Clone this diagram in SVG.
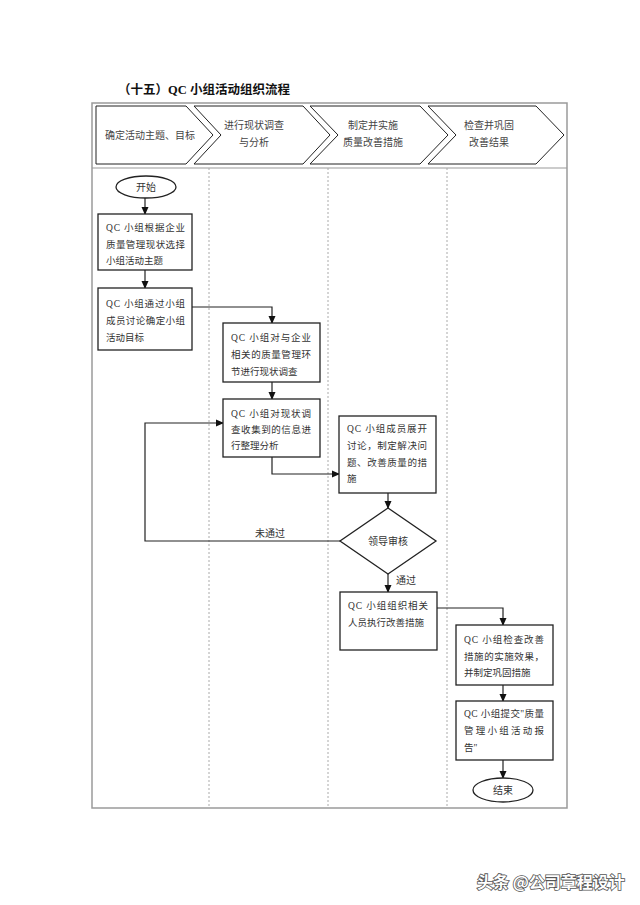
<svg xmlns="http://www.w3.org/2000/svg" width="640" height="905" viewBox="0 0 640 905">
<style>
text{font-family:"Liberation Serif","Noto Sans CJK SC",serif;fill:#333;}
.t{font-size:9.5px;}
.h{font-size:10px;text-anchor:middle;fill:#444;}
.box{fill:#fff;stroke:#222;stroke-width:1.3;}
.chev{fill:#fff;stroke:#222;stroke-width:1;}
.frame{fill:none;stroke:#9a9a9a;stroke-width:1.5;}
.lane{stroke:#aaa;stroke-width:1;stroke-dasharray:2,2;}
.c{fill:none;stroke:#222;stroke-width:1.2;}
</style>
<defs>
<marker id="ar" markerWidth="8" markerHeight="8" refX="7" refY="4" orient="auto" markerUnits="userSpaceOnUse">
<path d="M0,0.5 L8,4 L0,7.5 Z" fill="#111"/>
</marker>
</defs>
<rect width="640" height="905" fill="#fff"/>
<text x="118" y="94" style="font-size:12.5px;font-weight:bold;fill:#111">（十五）QC 小组活动组织流程</text>

<g id="frame">
<rect class="frame" x="92" y="103" width="475" height="705"/>
<line x1="92" y1="168" x2="567" y2="168" stroke="#9a9a9a" stroke-width="1.2"/>
<line class="lane" x1="209" y1="168" x2="209" y2="808"/>
<line class="lane" x1="328" y1="168" x2="328" y2="808"/>
<line class="lane" x1="447" y1="168" x2="447" y2="808"/>
</g>

<g id="header1"><polygon class="chev" points="96,106 186,106 213,135 186,164 96,164"/><text class="h" x="150" y="139">确定活动主题、目标</text></g>
<g id="header2"><polygon class="chev" points="194,106 303,106 330,135 303,164 194,164 221,135"/><text class="h" x="254" y="129">进行现状调查</text><text class="h" x="254" y="146">与分析</text></g>
<g id="header3"><polygon class="chev" points="310,106 420,106 448,135 420,164 310,164 338,135"/><text class="h" x="373" y="129">制定并实施</text><text class="h" x="373" y="146">质量改善措施</text></g>
<g id="header4"><polygon class="chev" points="428,106 536,106 564,135 536,164 428,164 456,135"/><text class="h" x="489" y="129">检查并巩固</text><text class="h" x="489" y="146">改善结果</text></g>

<g id="connectors">
<line class="c" x1="145" y1="198" x2="145" y2="214" marker-end="url(#ar)"/>
<line class="c" x1="145" y1="270" x2="145" y2="288" marker-end="url(#ar)"/>
<polyline class="c" points="192,307 272,307 272,323" marker-end="url(#ar)"/>
<line class="c" x1="272" y1="382" x2="272" y2="399" marker-end="url(#ar)"/>
<polyline class="c" points="272,457 272,474 339,474" marker-end="url(#ar)"/>
<line class="c" x1="388" y1="493" x2="388" y2="508" marker-end="url(#ar)"/>
<polyline class="c" points="340,541 145,541 145,423 223,423" marker-end="url(#ar)"/>
<line class="c" x1="388" y1="574" x2="388" y2="592" marker-end="url(#ar)"/>
<polyline class="c" points="437,608 503,608 503,625" marker-end="url(#ar)"/>
<line class="c" x1="503" y1="685" x2="503" y2="701" marker-end="url(#ar)"/>
<line class="c" x1="503" y1="760" x2="503" y2="778" marker-end="url(#ar)"/>
<text x="270" y="537" style="font-size:10px;text-anchor:middle">未通过</text>
<text x="406" y="584" style="font-size:10px;text-anchor:middle">通过</text>
</g>

<g id="start"><ellipse class="box" cx="146" cy="187" rx="30" ry="11"/><text x="146" y="191" style="font-size:10px;text-anchor:middle">开始</text></g>

<g id="n1"><rect class="box" x="98" y="214" width="94" height="56"/>
<text class="t" x="106" y="231" textLength="79" lengthAdjust="spacing">QC 小组根据企业</text>
<text class="t" x="106" y="248" textLength="79" lengthAdjust="spacing">质量管理现状选择</text>
<text class="t" x="106" y="264">小组活动主题</text></g>

<g id="n2"><rect class="box" x="98" y="288" width="94" height="62"/>
<text class="t" x="106" y="307" textLength="79" lengthAdjust="spacing">QC 小组通过小组</text>
<text class="t" x="106" y="324" textLength="79" lengthAdjust="spacing">成员讨论确定小组</text>
<text class="t" x="106" y="341">活动目标</text></g>

<g id="n3"><rect class="box" x="223" y="323" width="97" height="59"/>
<text class="t" x="231" y="341" textLength="80" lengthAdjust="spacing">QC 小组对与企业</text>
<text class="t" x="231" y="358" textLength="80" lengthAdjust="spacing">相关的质量管理环</text>
<text class="t" x="231" y="375">节进行现状调查</text></g>

<g id="n4"><rect class="box" x="223" y="399" width="97" height="58"/>
<text class="t" x="231" y="417" textLength="80" lengthAdjust="spacing">QC 小组对现状调</text>
<text class="t" x="231" y="433" textLength="80" lengthAdjust="spacing">查收集到的信息进</text>
<text class="t" x="231" y="449">行整理分析</text></g>

<g id="n5"><rect class="box" x="339" y="416" width="97" height="77"/>
<text class="t" x="347" y="432" textLength="80" lengthAdjust="spacing">QC 小组成员展开</text>
<text class="t" x="347" y="449" textLength="80" lengthAdjust="spacing">讨论，制定解决问</text>
<text class="t" x="347" y="466" textLength="80" lengthAdjust="spacing">题、改善质量的措</text>
<text class="t" x="347" y="482">施</text></g>

<g id="decision"><polygon class="box" points="388,508 436,541 388,574 340,541"/>
<text x="388" y="545" style="font-size:10px;text-anchor:middle">领导审核</text></g>

<g id="n6"><rect class="box" x="340" y="592" width="97" height="58"/>
<text class="t" x="348" y="609" textLength="80" lengthAdjust="spacing">QC 小组组织相关</text>
<text class="t" x="348" y="626">人员执行改善措施</text></g>

<g id="n7"><rect class="box" x="456" y="625" width="97" height="60"/>
<text class="t" x="464" y="643" textLength="80" lengthAdjust="spacing">QC 小组检查改善</text>
<text class="t" x="464" y="660" textLength="80" lengthAdjust="spacing">措施的实施效果，</text>
<text class="t" x="464" y="676">并制定巩固措施</text></g>

<g id="n8"><rect class="box" x="456" y="701" width="97" height="59"/>
<text class="t" x="464" y="717" textLength="80" lengthAdjust="spacing">QC 小组提交"质量</text>
<text class="t" x="464" y="734" textLength="80" lengthAdjust="spacing">管理小组活动报</text>
<text class="t" x="464" y="751">告"</text></g>

<g id="end"><ellipse class="box" cx="503" cy="790" rx="30" ry="12"/><text x="503" y="794" style="font-size:10px;text-anchor:middle">结束</text></g>

<text x="477" y="888" style="font-family:'Noto Sans CJK SC',sans-serif;font-size:16px;font-weight:bold;fill:#fff;stroke:#555;stroke-width:1.6;paint-order:stroke">头条 @公司章程设计</text>
</svg>
